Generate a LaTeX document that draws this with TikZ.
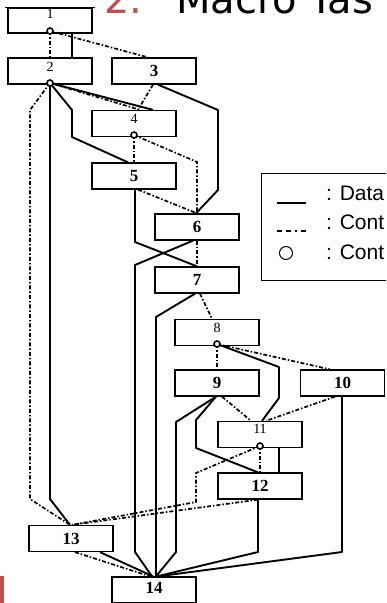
\documentclass[tikz,border=0pt]{standalone}
\usepackage{fontspec}
\setmainfont{Liberation Serif}
\newfontfamily\legendfont{Liberation Sans}
\newfontfamily\titlefont{DejaVu Sans}
\usetikzlibrary{calc}
\definecolor{slidered}{RGB}{192,80,77}
\begin{document}
\begin{tikzpicture}[x=1pt,y=-1pt,
  box/.style={draw,line width=1.3pt,minimum width=84pt,minimum height=26pt,inner sep=0pt},
  numbold/.style={inner sep=0pt,font=\bfseries\fontsize{17}{17}\selectfont},
  numthin/.style={inner sep=0pt,font=\fontsize{14}{14}\selectfont},
  data/.style={line width=1.9pt,line join=round},
  ctrl/.style={line width=1.7pt,dash pattern=on 4pt off 2pt on 1.5pt off 2pt},
  cmark/.style={circle,draw,fill=white,line width=1.6pt,minimum size=6pt,inner sep=0pt},
  legtext/.style={anchor=base west,inner sep=0pt,font=\legendfont\fontsize{21}{21}\selectfont}]
\clip (0,0) rectangle (386,603);
\fill[white] (0,0) rectangle (386,603);
% title
\node[anchor=base west,inner sep=0pt,text=slidered,font=\titlefont\fontsize{40}{40}\selectfont] (tnum) at (104,13) {2.};
\node[anchor=base west,inner sep=0pt,font=\titlefont\fontsize{40}{40}\selectfont] (ttitle) at (176,13) {Macro Tas};
\fill[slidered] (0,576) rectangle (4,603);
% boxes
\node[box,minimum height=25pt] (b1) at (50,20.5) {};
\node[box] (b2) at (50,71) {};
\node[box] (b3) at (154,71) {};
\node[box] (b4) at (134,123.5) {};
\node[box] (b5) at (134,176) {};
\node[box] (b6) at (197,227) {};
\node[box] (b7) at (197,280) {};
\node[box] (b8) at (217,332.5) {};
\node[box] (b9) at (217,383) {};
\node[box] (b10) at (342.5,383) {};
\node[box] (b11) at (260,434.5) {};
\node[box] (b12) at (260,486) {};
\node[box] (b13) at (71,538.5) {};
\node[box] (b14) at (154,590) {};
\draw[line width=1.8pt] (5,7.5) -- (95,7.5);
% labels
\node[numthin] (l1) at (50,14) {1};
\node[numthin] (l2) at (50,66.5) {2};
\node[numbold] (l3) at (154,71) {3};
\node[numthin] (l4) at (134,119) {4};
\node[numbold] (l5) at (134,176) {5};
\node[numbold] (l6) at (197,227) {6};
\node[numbold] (l7) at (197,280) {7};
\node[numthin] (l8) at (217,327.5) {8};
\node[numbold] (l9) at (217,383) {9};
\node[numbold] (l10) at (342.5,383) {10};
\node[numthin] (l11) at (260,428.5) {11};
\node[numbold] (l12) at (260,486) {12};
\node[numbold] (l13) at (71,538.5) {13};
\node[numbold] (l14) at (154,588) {14};
% control points
\coordinate (c1) at (50,31);
\coordinate (c2) at (50,83);
\coordinate (c4) at (134,135);
\coordinate (c8) at (217,344);
\coordinate (c11) at (260,446);
% edges from 1
\draw[ctrl] (c1) -- (b2.north);
\draw[data] ([xshift=22pt]b1.south) -- ([xshift=22pt]b2.north);
\draw[ctrl] (c1) -- ([xshift=-6pt]b3.north);
% edges from 2
\draw[ctrl] (c2) -- ([xshift=6pt]b4.north);
\draw[data] (c2) -- ([xshift=19pt]b4.north);
\draw[data] (c2) -- (72,110) -- (72,137) -- ([xshift=-6pt]b5.north);
\draw[data] (c2) -- (50,499) -- ([xshift=-1pt]b13.north);
\draw[ctrl] (c2) -- (30,110) -- (30,499) -- ([xshift=-1pt]b13.north);
% edges from 3
\draw[ctrl] ([xshift=-1pt]b3.south) -- ([xshift=4pt]b4.north);
\draw[data] ([xshift=4pt]b3.south) -- (218,110) -- (218,190) -- ([xshift=-1pt]b6.north);
% edges from 4
\draw[ctrl] (c4) -- (b5.north);
\draw[ctrl] (c4) -- (197,162) -- (b6.north);
% edges from 5
\draw[ctrl] ([xshift=4pt]b5.south) -- (b6.north);
\draw[data] ([xshift=1pt]b5.south) -- (135,242) -- (b7.north);
% edges from 6
\draw[data] ([xshift=-4pt]b6.south) -- (135,265) -- (135,552) -- ([xshift=-2pt]b14.north);
\draw[ctrl] (b6.south) -- (b7.north);
% edges from 7
\draw[data] ([xshift=-2pt]b7.south) -- (156,317) -- ([xshift=2pt]b14.north);
\draw[ctrl] ([xshift=3pt]b7.south) -- ([xshift=-5pt]b8.north);
% edges from 8
\draw[ctrl] (c8) -- (b9.north);
\draw[data] (c8) -- (279,367) -- (279,398) -- ([xshift=2pt]b11.north);
\draw[ctrl] (c8) -- ([xshift=-12.5pt]b10.north);
% edges from 9
\draw[ctrl] ([xshift=5pt]b9.south) -- ([xshift=-9pt]b11.north);
\draw[data] ([xshift=-1pt]b9.south) -- (176,422) -- (176,552) -- ([xshift=2pt]b14.north);
\draw[data] ([xshift=-1pt]b9.south) -- (196,420) -- (196,448) -- ([xshift=-2pt]b12.north);
% edges from 10
\draw[ctrl] ([xshift=-7.5pt]b10.south) -- ([xshift=6pt]b11.north);
\draw[data] ([xshift=-0.5pt]b10.south) -- (342,552) -- ([xshift=4pt]b14.north);
% edges from 11
\draw[data] ([xshift=19pt]b11.south) -- ([xshift=19pt]b12.north);
\draw[ctrl] (c11) -- (b12.north);
\draw[ctrl] (c11) -- (196,473) -- (196,502) -- ([xshift=1pt]b13.north);
% edges from 12
\draw[ctrl] ([xshift=-2pt]b12.south) -- ([xshift=1pt]b13.north);
\draw[data] ([xshift=-2pt]b12.south) -- (258,552) -- ([xshift=3pt]b14.north);
% edges from 13
\draw[data] ([xshift=29pt]b13.south) -- ([xshift=-1pt]b14.north);
\draw[ctrl] ([xshift=4pt]b13.south) -- ([xshift=-4pt]b14.north);
% circle marks
\node[cmark] (m1) at (c1) {};
\node[cmark] (m2) at (c2) {};
\node[cmark] (m4) at (c4) {};
\node[cmark] (m8) at (c8) {};
\node[cmark] (m11) at (c11) {};
% legend
\node[draw,line width=1.1pt,anchor=north west,minimum width=150pt,minimum height=107pt,inner sep=0pt] (legend) at (261,173) {};
\draw[line width=1.3pt] (277,203) -- (306,203);
\draw[line width=1.3pt,dash pattern=on 5pt off 4pt on 5pt off 4pt on 2pt off 4pt] (277,231) -- (306,231);
\node[circle,draw,line width=1pt,minimum size=13pt,inner sep=0pt] (legc) at (286,253) {};
\node[legtext] (ld) at (326,200) {: Data};
\node[legtext] (lc) at (326,229) {: Cont};
\node[legtext] (lo) at (326,259) {: Cont};
\end{tikzpicture}
\end{document}
